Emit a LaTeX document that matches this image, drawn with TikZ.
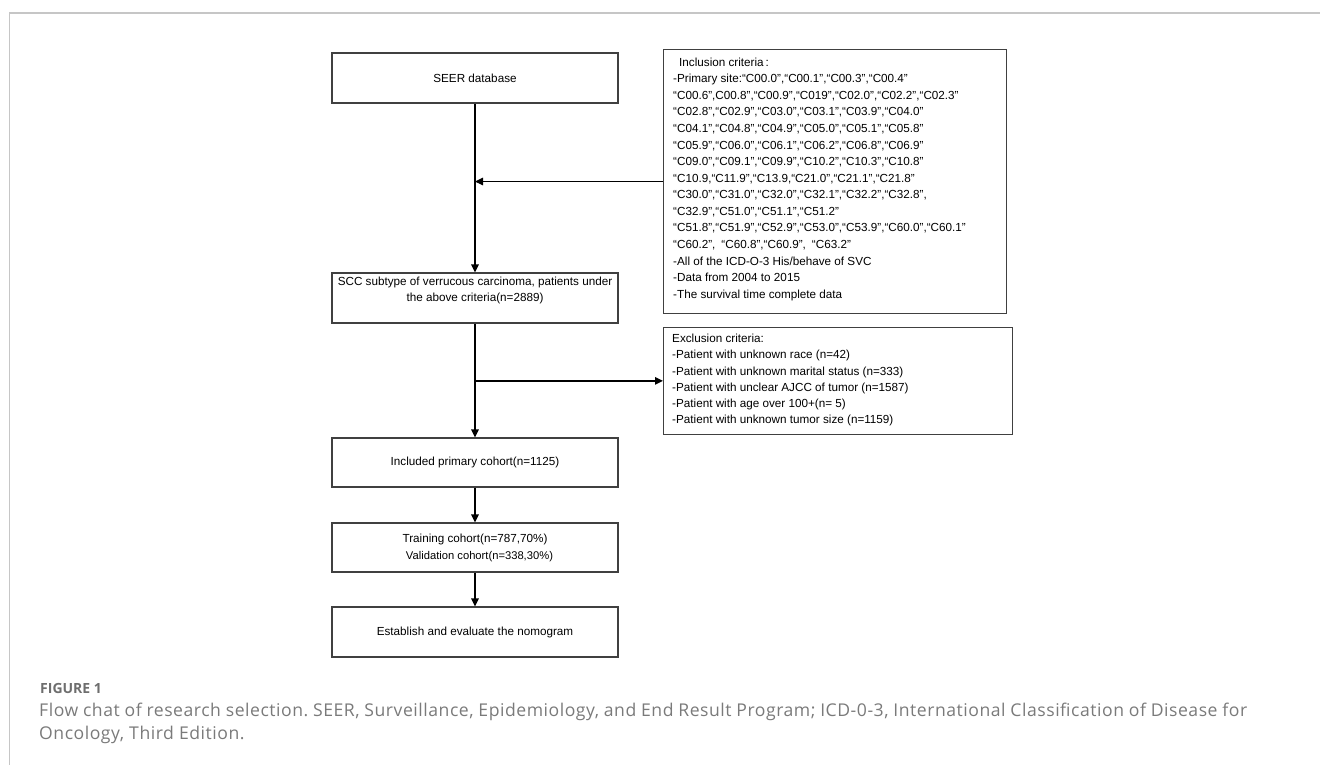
\documentclass[tikz,border=0pt]{standalone}
\usepackage{fontspec}
\setmainfont{Liberation Sans}
\newfontfamily\capfont[LetterSpace=3]{Open Sans}
\newfontfamily\figfont{Open Sans}
\usetikzlibrary{arrows.meta}
\definecolor{boxcol}{HTML}{404040}
\definecolor{framecol}{HTML}{C6C6C6}
\definecolor{capcol}{HTML}{7A7A7A}
\definecolor{figcol}{HTML}{6E6E6E}
\begin{document}
\begin{tikzpicture}[x=1pt,y=-1pt,
  box/.style={draw=boxcol, line width=1.1pt, minimum width=286pt, inner sep=0pt, align=center,
    font=\fontsize{11.7}{14}\selectfont},
  listbox/.style={draw=boxcol, line width=1.1pt, inner sep=0pt, anchor=north west},
  listtext/.style={inner sep=0pt, anchor=north west, align=left},
  plain/.style={inner sep=0pt, align=center, font=\fontsize{11.7}{14}\selectfont},
  arr/.style={draw=black, line width=1.3pt, -{Triangle[length=8pt,width=7.5pt]}},
  framestyle/.style={draw=framecol, line width=1.3pt},
  captext/.style={inner sep=0pt, anchor=base west, text=capcol, font=\capfont\fontsize{17.6}{23}\selectfont\frenchspacing}
]
\useasboundingbox (0,0) rectangle (1320,765);
\draw[framestyle] (1320,13) -- (9.5,13) -- (9.5,765);

% main column
\node[box, minimum height=50pt] (seer) at (475,78) {SEER database};
\node[box, minimum height=50pt] (scc) at (475,298) {};
\node[plain, font=\fontsize{11.7}{16}\selectfont] (scctext) at (475,290.5)
  {SCC subtype of verrucous carcinoma, patients under\\the above criteria(n=2889)};
\node[box, minimum height=49pt] (incl1125) at (475,462.5) {Included primary cohort(n=1125)};
\node[box, minimum height=49pt, font=\fontsize{11.7}{17}\selectfont] (train) at (475,547.5)
  {Training cohort(n=787,70\%)\\\hspace*{9pt}{\fontsize{11.2}{17}\selectfont Validation cohort(n=338,30\%)}};
\node[box, minimum height=50pt] (estab) at (475,632) {Establish and evaluate the nomogram};

% inclusion criteria
\node[listbox, minimum width=343pt, minimum height=264pt] (incl) at (663,49) {};
\node[listtext, font=\fontsize{11.7}{16.57}\selectfont] (incltext) at (673,57.6) {%
\hspace*{6pt}Inclusion criteria\,:\\
-Primary site:“C00.0”,“C00.1”,“C00.3”,“C00.4”\\
“C00.6”,C00.8”,“C00.9”,“C019”,“C02.0”,“C02.2”,“C02.3”\\
“C02.8”,“C02.9”,“C03.0”,“C03.1”,“C03.9”,“C04.0”\\
“C04.1”,“C04.8”,“C04.9”,“C05.0”,“C05.1”,“C05.8”\\
“C05.9”,“C06.0”,“C06.1”,“C06.2”,“C06.8”,“C06.9”\\
“C09.0”,“C09.1”,“C09.9”,“C10.2”,“C10.3”,“C10.8”\\
“C10.9,“C11.9”,“C13.9,“C21.0”,“C21.1”,“C21.8”\\
“C30.0”,“C31.0”,“C32.0”,“C32.1”,“C32.2”,“C32.8”,\\
“C32.9”,“C51.0”,“C51.1”,“C51.2”\\
“C51.8”,“C51.9”,“C52.9”,“C53.0”,“C53.9”,“C60.0”,“C60.1”\\
“C60.2”,\hspace{6pt}“C60.8”,“C60.9”,\hspace{6pt}“C63.2”\\
-All of the ICD-O-3 His/behave of SVC\\
-Data from 2004 to 2015\\
-The survival time complete data};

% exclusion criteria
\node[listbox, minimum width=349pt, minimum height=107.3pt] (excl) at (663,326.7) {};
\node[listtext, font=\fontsize{11.7}{16.1}\selectfont] (excltext) at (672,334.2) {%
Exclusion criteria:\\
-Patient with unknown race (n=42)\\
-Patient with unknown marital status (n=333)\\
-Patient with unclear AJCC of tumor (n=1587)\\
-Patient with age over 100+(n= 5)\\
-Patient with unknown tumor size (n=1159)};

% connectors
\coordinate (jin) at (seer.south |- incl.west);
\coordinate (jex) at (seer.south |- excl.west);
\draw[arr] (seer.south) -- (scc.north);
\draw[arr] (incl.west) -- (jin);
\draw[arr] (scc.south) -- (incl1125.north);
\draw[arr] (jex) -- (excl.west);
\draw[arr] (incl1125.south) -- (train.north);
\draw[arr] (train.south) -- (estab.north);

% caption
\node[inner sep=0pt, anchor=base west, text=figcol, font=\figfont\bfseries\fontsize{14}{16}\selectfont] (figlabel) at (40,693) {FIGURE 1};
\node[captext] (caption1) at (39,716) {\makebox[1208pt][s]{Flow chat of research selection. SEER, Surveillance, Epidemiology, and End Result Program; ICD-0-3, International Classification of Disease for}};
\node[captext] (caption2) at (39,739) {Oncology, Third Edition.};
\end{tikzpicture}
\end{document}
